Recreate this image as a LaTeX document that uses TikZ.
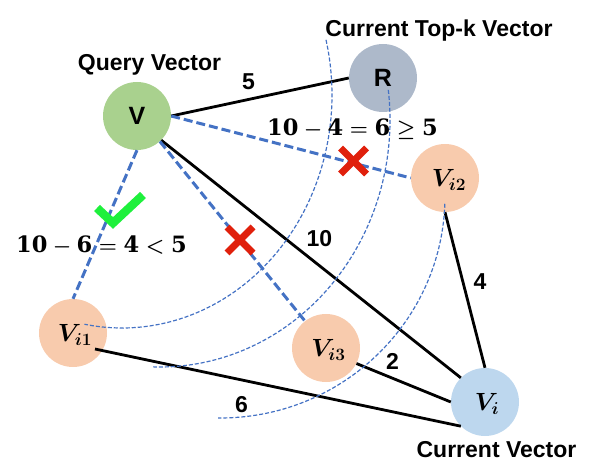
\documentclass[tikz,border=0pt]{standalone}
\usepackage{fontspec}
\setsansfont{Liberation Sans}
\newfontfamily\eqfont{DejaVu Serif}
\usepackage{amsmath}
\usepackage{bm}
\usetikzlibrary{calc}
\definecolor{qgreen}{HTML}{A9D18E}
\definecolor{rgray}{HTML}{ADB9CA}
\definecolor{peach}{HTML}{F8CBAD}
\definecolor{lblue}{HTML}{BDD7EE}
\definecolor{dblue}{HTML}{4472C4}
\definecolor{chk}{HTML}{1EF03C}
\definecolor{xred}{HTML}{E0200C}
\begin{document}
\begin{tikzpicture}[x=1pt,y=-1pt,
  vnode/.style={circle, minimum size=68pt, inner sep=0pt, text depth=0pt},
  sansnode/.style={vnode, font=\fontsize{25}{28}\selectfont\sffamily\bfseries},
  mathnode/.style={vnode, font=\fontsize{27}{29}\selectfont\boldmath},
  solidline/.style={line width=2.8pt, black},
  dashline/.style={line width=3pt, dblue, dash pattern=on 9pt off 4pt},
  arcline/.style={line width=1.2pt, dblue, dash pattern=on 4pt off 2pt},
  lbl/.style={anchor=base, inner sep=0pt, font=\fontsize{23}{27}\selectfont\sffamily\bfseries},
  eqlbl/.style={anchor=base, inner sep=0pt, font=\fontsize{22.5}{27}\selectfont\eqfont\bfseries\boldmath},
  chkline/.style={line width=8.5pt, chk, miter limit=10},
  xline/.style={line width=7pt, xred}
]
\useasboundingbox (0,0) rectangle (598,476);

% nodes
\node[sansnode, fill=qgreen] (V) at (137,116) {V};
\node[sansnode, fill=rgray] (R) at (383,78) {R};
\node[mathnode, fill=peach] (Vi2) at (445,178) {\hspace*{8pt}$V_{i\mathbf{2}}$};
\node[mathnode, fill=peach] (Vi1) at (73,333) {\hspace*{4pt}$V_{i\mathbf{1}}$};
\node[mathnode, fill=peach] (Vi3) at (326,348) {\hspace*{5pt}$V_{i\mathbf{3}}$};
\node[mathnode, fill=lblue] (Vi) at (485,402) {\hspace*{4pt}$V_{i}$};

% titles
\node[lbl] (tq) at (149.5,71) {Query Vector};
\node[lbl] (tr) at (439,37) {Current Top-k Vector};
\node[lbl] (tc) at (496.5,457) {Current Vector};

% solid edges
\coordinate (s1) at ($(Vi1)+(22,16)$);
\draw[solidline] (V.east) -- (R.west);
\draw[solidline] (V.-45) -- (Vi.135);
\draw[solidline] (Vi2.south) -- (Vi.north);
\draw[solidline] (Vi3.-27) -- (Vi.west);
\draw[solidline] (s1) -- (Vi.-135);

% dashed edges
\draw[dashline] (V.east) -- (Vi2.west);
\draw[dashline] (V.south) -- (Vi1.north);
\draw[dashline] (V.-48) -- (Vi3.128);

% arcs
\draw[arcline, shift={(122,95)}] (-13.7:210 and 233) arc[start angle=-13.7, end angle=100.3, x radius=210, y radius=233];
\draw[arcline, shift={(160,120)}] (-7:230 and 247) arc[start angle=-7, end angle=91.7, x radius=230, y radius=247];
\draw[arcline, shift={(220,196)}] (2:225 and 222) arc[start angle=2, end angle=90.5, x radius=225, y radius=222];

% edge labels
\node[lbl] (l5) at (248.5,90) {5};
\node[lbl] (l10) at (319.5,247) {10};
\node[lbl] (l4) at (480,290) {4};
\node[lbl] (l2) at (392.5,369) {2};
\node[lbl] (l6) at (241.5,412) {6};

% equations
\node[eqlbl] (eq1) at (101.5,253) {$\text{10}-\text{6}=\text{4}<\text{5}$};
\node[eqlbl] (eq2) at (352.5,136) {$\text{10}-\text{4}=\text{6}\geq\text{5}$};

% check mark
\draw[chkline] (97,208) -- (113,223) -- (143,195);

% crosses
\draw[xline] (340.5,148) -- (366.5,174);
\draw[xline] (366.5,148) -- (340.5,174);
\draw[xline] (227,227) -- (253,253);
\draw[xline] (253,227) -- (227,253);
\end{tikzpicture}
\end{document}
